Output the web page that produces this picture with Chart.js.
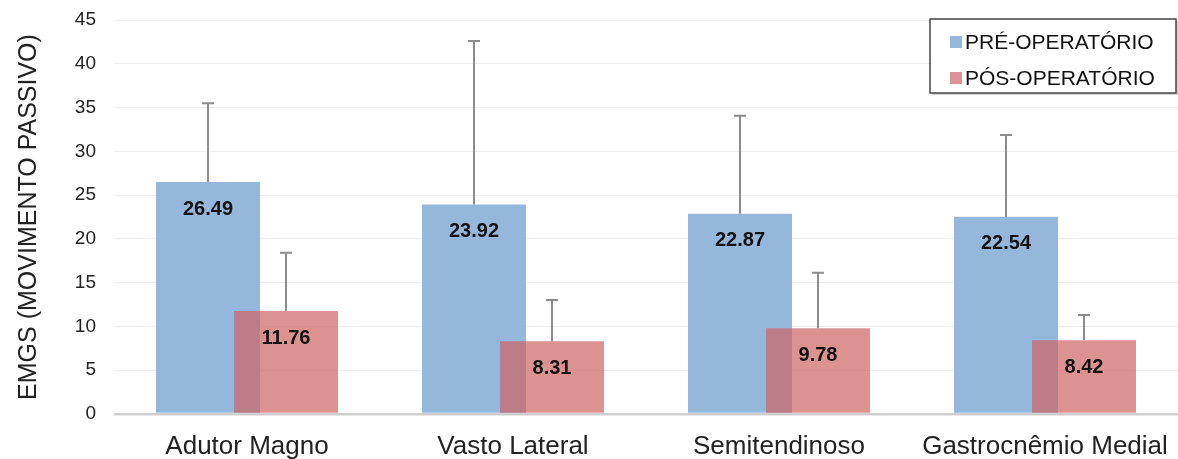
<!DOCTYPE html>
<html>
<head>
<meta charset="utf-8">
<script src="https://cdn.jsdelivr.net/npm/chart.js@4.4.1/dist/chart.umd.min.js"></script>
<style>
  html, body { margin: 0; padding: 0; background: #ffffff; }
  #wrap { width: 1178px; height: 459px; position: relative; }
</style>
</head>
<body>
<div id="wrap"><canvas id="c"></canvas></div>
<script>
// Muscles measured
const categories = ['Adutor Magno', 'Vasto Lateral', 'Semitendinoso', 'Gastrocnêmio Medial'];

// Mean EMG values (passive movement)
const preValues  = [26.49, 23.92, 22.87, 22.54];
const postValues = [11.76, 8.31, 9.78, 8.42];

// Standard deviations (upper error bars)
const preSD  = [9.0, 18.68, 11.2, 9.33];
const postSD = [6.65, 4.71, 6.36, 2.89];

const seriesNames = ['PRÉ-OPERATÓRIO', 'PÓS-OPERATÓRIO'];

// Y axis ticks
const yTicks = [0, 5, 10, 15, 20, 25, 30, 35, 40, 45];

const FONT = "'Liberation Sans', Arial, Helvetica, sans-serif";
const PRE_COLOR = 'rgb(149,183,219)';
const POST_COLOR = 'rgba(206,100,100,0.7)';
const POST_LEGEND = 'rgb(220,146,146)';

// Draws bars left-to-right (post over pre), then error bars and value labels
const barExtras = {
  id: 'barExtras',
  beforeDatasetsDraw(chart) {
    const ctx = chart.ctx;
    const y = chart.scales.y;
    const sds = [preSD, postSD];

    chart.data.datasets.forEach((ds, di) => {
      chart.getDatasetMeta(di).controller.draw();
    });

    ctx.save();
    chart.data.datasets.forEach((ds, di) => {
      const meta = chart.getDatasetMeta(di);
      meta.data.forEach((bar, i) => {
        const top = y.getPixelForValue(ds.data[i] + sds[di][i]);
        ctx.strokeStyle = '#8c8c8c';
        ctx.lineWidth = 2;
        ctx.beginPath();
        ctx.moveTo(bar.x, bar.y);
        ctx.lineTo(bar.x, top);
        ctx.moveTo(bar.x - 6, top);
        ctx.lineTo(bar.x + 6, top);
        ctx.stroke();
      });
    });
    chart.data.datasets.forEach((ds, di) => {
      const meta = chart.getDatasetMeta(di);
      meta.data.forEach((bar, i) => {
        ctx.fillStyle = '#111111';
        ctx.font = 'bold 20px ' + FONT;
        ctx.textAlign = 'center';
        ctx.textBaseline = 'middle';
        ctx.fillText(ds.data[i].toFixed(2), bar.x, bar.y + 27);
      });
    });
    ctx.restore();
    return false;
  },
  afterDraw(chart) {
    // Legend box inside the plot area, top right
    const ctx = chart.ctx;
    const area = chart.chartArea;
    const w = 246, h = 74;
    const x0 = area.right - w - 2, y0 = area.top - 1;
    ctx.save();
    ctx.fillStyle = 'rgba(0,0,0,0.18)';
    ctx.fillRect(x0 + 2, y0 + 2, w, h);
    ctx.fillStyle = '#ffffff';
    ctx.fillRect(x0, y0, w, h);
    ctx.strokeStyle = '#444444';
    ctx.lineWidth = 1.5;
    ctx.strokeRect(x0, y0, w, h);
    const colors = [PRE_COLOR, POST_LEGEND];
    chart.data.datasets.forEach((ds, i) => {
      const cy = y0 + 23 + i * 36;
      ctx.fillStyle = colors[i];
      ctx.fillRect(x0 + 20, cy - 6, 12, 12);
      ctx.fillStyle = '#111111';
      ctx.font = '21px ' + FONT;
      ctx.textAlign = 'left';
      ctx.textBaseline = 'middle';
      ctx.fillText(ds.label, x0 + 35, cy + 1);
    });
    ctx.restore();
  }
};

new Chart(document.getElementById('c'), {
  type: 'bar',
  data: {
    labels: categories,
    datasets: [
      { label: seriesNames[0], data: preValues, backgroundColor: PRE_COLOR, borderWidth: 0 },
      { label: seriesNames[1], data: postValues, backgroundColor: POST_COLOR, borderWidth: 0 }
    ]
  },
  options: {
    responsive: true,
    maintainAspectRatio: false,
    animation: false,
    categoryPercentage: 0.5865,
    barPercentage: 1.333,
    layout: { padding: { top: 20, right: 0, bottom: 0, left: 0 } },
    plugins: {
      legend: { display: false },
      tooltip: { enabled: false }
    },
    scales: {
      x: {
        grid: { display: false, drawTicks: false },
        border: { display: false },
        ticks: {
          autoSkip: false,
          maxRotation: 0,
          padding: 17,
          color: '#222222',
          font: { family: FONT, size: 26 }
        },
        afterFit(scale) {
          scale.height = 45;
          scale.paddingLeft = 0;
          scale.paddingRight = 0;
        }
      },
      y: {
        min: 0,
        max: 45,
        afterBuildTicks(scale) { scale.ticks = yTicks.map(v => ({ value: v })); },
        grid: {
          drawTicks: false,
          color: ctx => ctx.tick && ctx.tick.value === 0 ? '#cfcfcf' : '#eeeeee',
          lineWidth: ctx => ctx.tick && ctx.tick.value === 0 ? 2.5 : 1
        },
        border: { display: false },
        ticks: {
          padding: 18,
          color: '#222222',
          font: { family: FONT, size: 19 }
        },
        title: {
          display: true,
          text: 'EMGS (MOVIMENTO PASSIVO)',
          color: '#222222',
          font: { family: FONT, size: 25 },
          padding: { top: 14, bottom: 0 }
        },
        afterFit(scale) {
          scale.width = 114;
          scale.paddingTop = 0;
          scale.paddingBottom = 0;
        }
      }
    }
  },
  plugins: [barExtras]
});
</script>
</body>
</html>
